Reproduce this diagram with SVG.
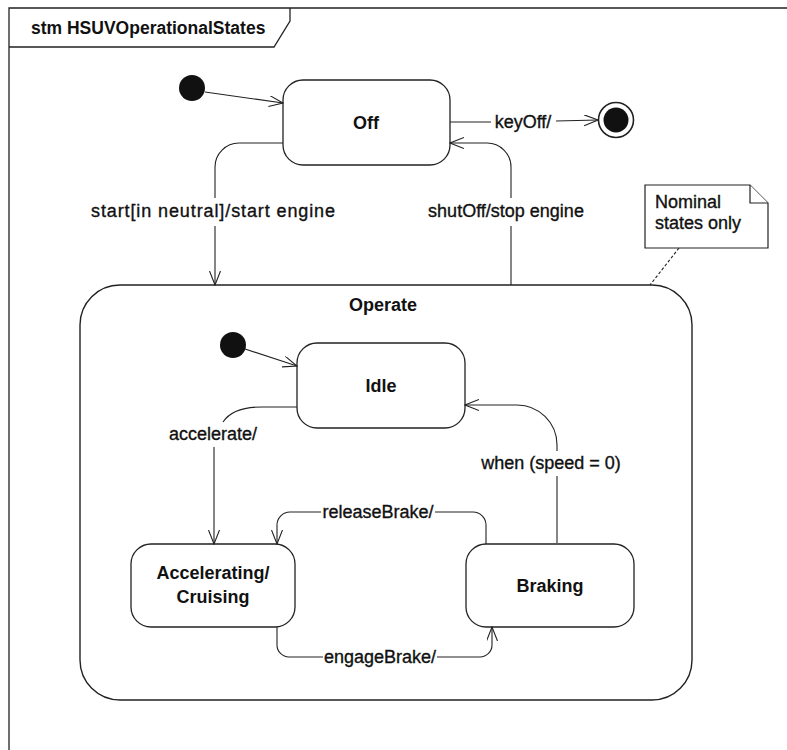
<svg xmlns="http://www.w3.org/2000/svg" width="787" height="750" viewBox="0 0 787 750">
  <style>
    .frame { fill: none; stroke: #222; stroke-width: 1.3; }
    .state { fill: #fff; stroke: #222; stroke-width: 1.3; }
    .region { fill: none; stroke: #222; stroke-width: 1.4; }
    .edge { fill: none; stroke: #222; stroke-width: 1.1; }
    .note { fill: #fff; stroke: #222; stroke-width: 1.2; }
    .anchor { fill: none; stroke: #222; stroke-width: 1.1; stroke-dasharray: 3 2; }
    .name { font-family: "Liberation Sans", Arial, sans-serif; font-size: 18px; font-weight: bold; fill: #111; text-anchor: middle; }
    .lbl { font-family: "Liberation Sans", Arial, sans-serif; font-size: 18px; fill: #111; stroke: #111; stroke-width: 0.35; text-anchor: middle; }
    .title { font-family: "Liberation Sans", Arial, sans-serif; font-size: 17.5px; font-weight: bold; fill: #111; }
    .notetext { font-family: "Liberation Sans", Arial, sans-serif; font-size: 18px; fill: #111; stroke: #111; stroke-width: 0.35; }
    .dot { fill: #111; }
  </style>
  <defs>
    <marker id="open" markerWidth="15" markerHeight="12" refX="14" refY="5.5" orient="auto" markerUnits="userSpaceOnUse">
      <path d="M0,0 L14,5.5 L0,11" fill="none" stroke="#222" stroke-width="1.1"/>
    </marker>
  </defs>

  <rect width="787" height="750" fill="#fff"/>

  <!-- diagram frame with name tab -->
  <g id="frame">
    <path class="frame" d="M9,750 V8 H787"/>
    <path class="frame" d="M9,47 H274 L290,21 V8"/>
    <text class="title" x="31" y="34">stm HSUVOperationalStates</text>
  </g>

  <!-- composite state -->
  <g id="operate">
    <rect class="region" x="80" y="285" width="612" height="415" rx="40" ry="40"/>
    <text class="name" x="383" y="311">Operate</text>
  </g>

  <g id="init-top">
    <circle class="dot" cx="192" cy="88" r="13"/>
  </g>

  <g id="off">
    <rect class="state" x="283" y="80" width="167" height="85" rx="20" ry="20"/>
    <text class="name" x="366" y="129">Off</text>
  </g>

  <g id="final">
    <circle cx="616" cy="120" r="17.5" fill="#fff" stroke="#222" stroke-width="1.6"/>
    <circle class="dot" cx="616" cy="120" r="12.5"/>
  </g>

  <g id="init-operate">
    <circle class="dot" cx="233" cy="345" r="13"/>
  </g>

  <g id="idle">
    <rect class="state" x="297" y="343" width="168" height="85" rx="20" ry="20"/>
    <text class="name" x="381" y="392">Idle</text>
  </g>

  <g id="accelerating">
    <rect class="state" x="131" y="544" width="164" height="83" rx="20" ry="20"/>
    <text class="name" x="213" y="579">Accelerating/</text>
    <text class="name" x="213" y="603">Cruising</text>
  </g>

  <g id="braking">
    <rect class="state" x="466" y="544" width="168" height="83" rx="20" ry="20"/>
    <text class="name" x="550" y="592">Braking</text>
  </g>

  <g id="note">
    <path class="note" d="M645,185 H750 L768,203 V248 H645 Z"/>
    <path class="note" d="M750,185 V203 H768" fill="none"/>
    <text class="notetext" x="655" y="208">Nominal</text>
    <text class="notetext" x="655" y="229">states only</text>
  </g>

  <!-- transitions -->
  <g id="connectors">
    <path class="anchor" d="M679,248 L650,285"/>

    <path class="edge" d="M205,92 L283,103" marker-end="url(#open)"/>

    <path class="edge" d="M450,122 H491"/>
    <path class="edge" d="M556,121 L598,120" marker-end="url(#open)"/>
    <text class="lbl" x="523" y="128">keyOff/</text>

    <path class="edge" d="M283,143 H239 A24,24 0 0 0 215,167 V198"/>
    <path class="edge" d="M215,226 V285" marker-end="url(#open)"/>
    <text class="lbl" x="213" y="217" textLength="244" lengthAdjust="spacing">start[in neutral]/start engine</text>

    <path class="edge" d="M511,285 V226"/>
    <path class="edge" d="M511,198 V167 A24,24 0 0 0 487,143 H450" marker-end="url(#open)"/>
    <text class="lbl" x="506" y="217">shutOff/stop engine</text>

    <path class="edge" d="M245,349 L297,366" marker-end="url(#open)"/>

    <path class="edge" d="M297,407 H262 C242,407 229,413 223,422"/>
    <path class="edge" d="M214,447 V544" marker-end="url(#open)" stroke-width="1.5"/>
    <text class="lbl" x="213" y="440">accelerate/</text>

    <path class="edge" d="M557,543 V476"/>
    <path class="edge" d="M557,451 V445 A40,40 0 0 0 517,405 H465" marker-end="url(#open)"/>
    <text class="lbl" x="551" y="469">when (speed = 0)</text>

    <path class="edge" d="M486,544 V525 A13,13 0 0 0 473,512 H435"/>
    <path class="edge" d="M321,512 H290 A13,13 0 0 0 277,525 V544" marker-end="url(#open)"/>
    <text class="lbl" x="378" y="518">releaseBrake/</text>

    <path class="edge" d="M277,627 V645 A12,12 0 0 0 289,657 H323"/>
    <path class="edge" d="M437,657 H480 A12,12 0 0 0 492,645 V627" marker-end="url(#open)"/>
    <text class="lbl" x="380" y="663">engageBrake/</text>
  </g>
</svg>
